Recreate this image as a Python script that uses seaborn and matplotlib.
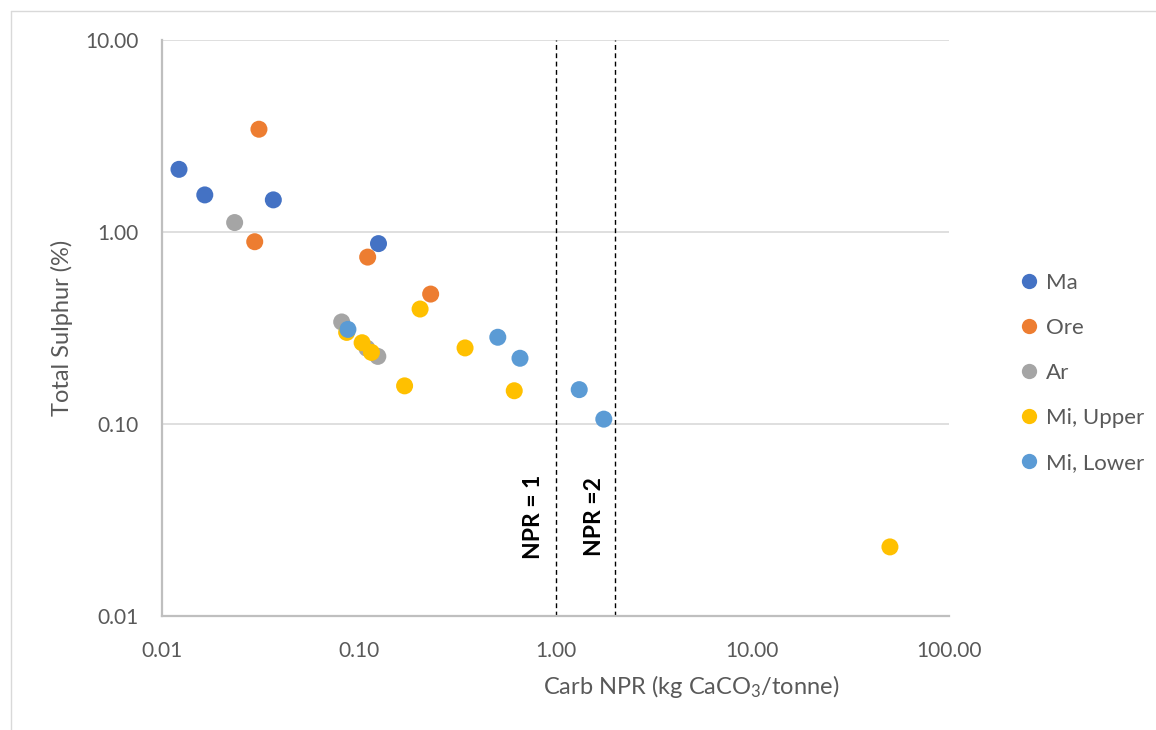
import matplotlib
matplotlib.use("Agg")
import matplotlib.pyplot as plt
from matplotlib.lines import Line2D
from matplotlib.ticker import LogLocator, FixedLocator, NullFormatter
import seaborn as sns
import pandas as pd

# Carb NPR (kg CaCO3/tonne) and total sulphur (%) per rock unit
ma_npr = [0.0122, 0.0165, 0.0368, 0.126]
ma_s = [2.12, 1.56, 1.47, 0.87]
ore_npr = [0.0311, 0.0296, 0.111, 0.232]
ore_s = [3.43, 0.89, 0.74, 0.475]
ar_npr = [0.0234, 0.0819, 0.110, 0.125]
ar_s = [1.12, 0.34, 0.248, 0.225]
miu_npr = [0.0868, 0.104, 0.116, 0.171, 0.205, 0.347, 0.617, 50.1]
miu_s = [0.30, 0.265, 0.236, 0.158, 0.397, 0.249, 0.149, 0.0229]
mil_npr = [0.0881, 0.509, 0.660, 1.32, 1.76]
mil_s = [0.311, 0.283, 0.220, 0.151, 0.106]

units = ["Ma", "Ore", "Ar", "Mi, Upper", "Mi, Lower"]
colors = ["#4472C4", "#ED7D31", "#A5A5A5", "#FFC000", "#5B9BD5"]
npr_lines = [1, 2]
npr_labels = ["NPR = 1", "NPR =2"]
x_ticks = [0.01, 0.1, 1, 10, 100]
y_ticks = [0.01, 0.1, 1, 10]

frames = []
for name, xs, ys in zip(units,
                        [ma_npr, ore_npr, ar_npr, miu_npr, mil_npr],
                        [ma_s, ore_s, ar_s, miu_s, mil_s]):
    frames.append(pd.DataFrame({"npr": xs, "s": ys, "unit": name}))
df = pd.concat(frames, ignore_index=True)

sns.set_style("white")
plt.rcParams["font.family"] = ["Lato", "DejaVu Sans"]
plt.rcParams["mathtext.fontset"] = "custom"
plt.rcParams["mathtext.rm"] = "Lato"
plt.rcParams["mathtext.it"] = "Lato"

W, H = 1156, 730
fig = plt.figure(figsize=(W / 100, H / 100), dpi=100)
ax = fig.add_axes([162 / W, 1 - 616 / H, (949 - 162) / W, (616 - 40) / H])

text_grey = "#595959"
axis_grey = "#BFBFBF"
grid_grey = "#D9D9D9"

sns.scatterplot(data=df, x="npr", y="s", hue="unit", hue_order=units,
                palette=colors, s=150, linewidth=0, alpha=1,
                ax=ax, legend=False, zorder=3)

ax.set_xscale("log")
ax.set_yscale("log")
ax.set_xlim(0.01, 100)
ax.set_ylim(0.01, 10)

ax.xaxis.set_major_locator(FixedLocator(x_ticks))
ax.yaxis.set_major_locator(FixedLocator(y_ticks))
ax.set_xticklabels([f"{v:.2f}" for v in x_ticks])
ax.set_yticklabels([f"{v:.2f}" for v in y_ticks])
ax.xaxis.set_minor_locator(LogLocator(base=10, subs=range(2, 10), numticks=20))
ax.yaxis.set_minor_locator(LogLocator(base=10, subs=range(2, 10), numticks=20))
ax.xaxis.set_minor_formatter(NullFormatter())
ax.yaxis.set_minor_formatter(NullFormatter())

ax.tick_params(axis="both", which="major", length=0, labelsize=15,
               labelcolor=text_grey)
ax.tick_params(axis="x", which="major", pad=18)
ax.tick_params(axis="y", which="major", pad=17)
ax.tick_params(axis="both", which="minor", direction="in", length=4.5,
               width=1.0, color=axis_grey)

ax.grid(False)
for yv in y_ticks[1:]:
    ax.axhline(yv, color=grid_grey, lw=1.2, zorder=1)

for side in ["top", "right"]:
    ax.spines[side].set_visible(False)
for side in ["left", "bottom"]:
    ax.spines[side].set_color(axis_grey)
    ax.spines[side].set_linewidth(1.6)
ax.set_xlabel("")
ax.set_ylabel("")

for xv, lab, xpix in zip(npr_lines, npr_labels, [534, 595]):
    ax.axvline(xv, color="black", lw=1.0, ls=(0, (3.5, 2.5)), zorder=2)
    fig.text(xpix / W, 1 - 517 / H, lab, rotation=90, ha="center",
             va="center", fontsize=16.5, fontweight="bold", color="black")

fig.text(691 / W, 1 - 687 / H, "Carb NPR (kg CaCO$_3$/tonne)",
         ha="center", va="center", fontsize=17, color=text_grey)
fig.text(62 / W, 1 - 328 / H, "Total Sulphur (%)", rotation=90,
         ha="center", va="center", fontsize=17, color=text_grey)

handles = [Line2D([], [], marker="o", ls="", markersize=11,
                  markerfacecolor=c, markeredgewidth=0) for c in colors]
leg = fig.legend(handles, units, loc="center left",
                 bbox_to_anchor=(1019 / W, 1 - 373 / H), frameon=False,
                 fontsize=16, labelspacing=1.12, handlelength=0.9,
                 handletextpad=0.3, borderaxespad=0, borderpad=0)
for t in leg.get_texts():
    t.set_color(text_grey)

# chart-area frame edges
fig.add_artist(Line2D([11 / W, 11 / W], [0, 1 - 11 / H], color="#D9D9D9",
                      lw=1.0, transform=fig.transFigure))
fig.add_artist(Line2D([11 / W, 1], [1 - 11 / H, 1 - 11 / H], color="#D9D9D9",
                      lw=1.0, transform=fig.transFigure))

fig.savefig("out.png", dpi=100, facecolor="white")
